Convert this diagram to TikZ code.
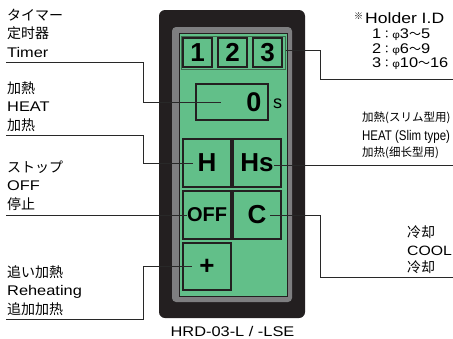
\documentclass[tikz,border=0pt]{standalone}
\usepackage{fontspec}
\setmainfont{Liberation Sans}[FakeStretch=1.17]
\newfontfamily\condfont{Liberation Sans}[FakeStretch=0.82]
\newfontfamily\keyfont{Liberation Sans}
\newfontfamily\jpfont{Noto Sans CJK JP}
\newfontfamily\cnfont{Noto Sans CJK SC}
\newcommand\hcolon{{\jpfont\fontsize{11}{11}\selectfont ：}}
\newcommand\hwave{{\jpfont\fontsize{12}{12}\selectfont ～}}
\newcommand\hphi{{\fontsize{10}{10}\selectfont φ}}
\definecolor{casecol}{RGB}{35,31,32}
\definecolor{framegray}{RGB}{126,126,128}
\definecolor{panelgreen}{RGB}{98,191,137}
\definecolor{stripedge}{RGB}{62,105,78}
\definecolor{linecol}{RGB}{40,40,40}
\tikzset{
  lat/.style={anchor=base west, inner sep=0pt, font=\fontsize{14}{14}\selectfont},
  jp/.style={anchor=base west, inner sep=0pt, font=\jpfont\fontsize{14}{14}\selectfont},
  cn/.style={anchor=base west, inner sep=0pt, font=\cnfont\fontsize{14}{14}\selectfont},
  conn/.style={draw=linecol, line width=0.8pt},
  keybox/.style={draw=casecol, line width=1.1pt, fill=panelgreen, minimum width=48pt, minimum height=48pt, inner sep=0pt, font=\keyfont\bfseries\fontsize{26}{26}\selectfont},
  idbox/.style={keybox, minimum width=29pt, minimum height=29pt},
}
\begin{document}
\begin{tikzpicture}[x=1pt,y=-1pt]
\fill[white] (0,0) rectangle (453,338);
\useasboundingbox (0,0) rectangle (453,338);

% device body
\node[fill=casecol, rounded corners=6pt, minimum width=146pt, minimum height=308pt, inner sep=0pt] (case) at (232,164) {};
\node[fill=framegray, rounded corners=4pt, minimum width=120pt, minimum height=275pt, inner sep=0pt] (frame) at (232,164.5) {};
\node[fill=panelgreen, draw=casecol, line width=0.8pt, minimum width=108pt, minimum height=263pt, inner sep=0pt] (panel) at (233,164.5) {};
\node[fill=panelgreen, draw=stripedge, line width=1pt, minimum width=104pt, minimum height=33pt, inner sep=0pt] (holder) at (233,52.5) {};

\node[idbox] (id1) at (197.5,52.5) {1};
\node[idbox] (id2) at (232.5,52.5) {2};
\node[idbox] (id3) at (267.5,52.5) {3};

\node[draw=casecol, line width=1.1pt, minimum width=72pt, minimum height=36pt, inner sep=0pt] (timer) at (232,102) {};
\node[inner sep=0pt, font=\keyfont\bfseries\fontsize{27}{27}\selectfont] (zero) at (254,102.5) {0};
\node[anchor=base west, inner sep=0pt, font=\keyfont\fontsize{18}{18}\selectfont] (sec) at (273,108) {s};

\node[keybox] (hkey) at (207,163) {H};
\node[keybox] (hskey) at (257,163) {Hs};
\node[keybox, font=\keyfont\bfseries\fontsize{20}{20}\selectfont] (offkey) at (207,215) {OFF};
\node[keybox] (ckey) at (257,215) {C};
\node[keybox, minimum height=47pt] (pkey) at (207,266.5) {+};

\node[anchor=base, inner sep=0pt, font=\fontsize{14}{14}\selectfont] (model) at (232.5,336) {HRD-03-L / -LSE};

% left labels
\node[jp] (t1) at (7,20) {タイマー};
\node[cn] (t2) at (7,38.5) {定时器};
\node[lat] (t3) at (7,57) {Timer};
\coordinate (tu) at (6,62);
\coordinate (tend) at (221,102);

\node[jp] (h1) at (7,93) {加熱};
\node[lat] (h2) at (7,111.5) {HEAT};
\node[cn] (h3) at (7,130) {加热};
\coordinate (hu) at (6,135);

\node[jp] (o1) at (7,172) {ストップ};
\node[lat] (o2) at (7,190.5) {OFF};
\node[cn] (o3) at (7,209) {停止};
\coordinate (ou) at (6,215);

\node[jp] (r1) at (7,277) {追い加熱};
\node[lat] (r2) at (7,295.5) {Reheating};
\node[cn] (r3) at (7,314) {追加加热};
\coordinate (ru) at (6,319);

% right labels
\node[inner sep=0pt, font=\jpfont\fontsize{9}{9}\selectfont] (note) at (358.5,16.5) {※};
\node[anchor=base west, inner sep=0pt, font=\fontsize{15}{15}\selectfont] (hid0) at (365,23.5) {Holder I.D};
\node[lat] (hid1) at (372,38) {1\hcolon\hphi 3\hwave 5};
\node[lat] (hid2) at (372,53) {2\hcolon\hphi 6\hwave 9};
\node[lat] (hid3) at (372,67.5) {3\hcolon\hphi 10\hwave 16};
\coordinate (hdend) at (453,79);

\node[jp, font=\jpfont\fontsize{11.5}{11.5}\selectfont] (s1) at (362,121.6) {加熱(スリム型用)};
\node[lat, font=\condfont\fontsize{14}{14}\selectfont] (s2) at (362,140) {HEAT (Slim type)};
\node[cn, font=\cnfont\fontsize{11.5}{11.5}\selectfont] (s3) at (362,156.6) {加热(细长型用)};
\coordinate (hsend) at (453,165);

\node[cn] (c1) at (407,237.3) {冷却};
\node[lat, font=\fontsize{13.5}{13.5}\selectfont] (c2) at (407,255) {COOL};
\node[cn] (c3) at (407,272.3) {冷却};
\coordinate (cend) at (453,277);

% connectors
\draw[conn] (tu) -- ++(137,0) |- (tend);
\draw[conn] (hu) -- ++(137,0) |- ([xshift=-14pt]hkey.center);
\draw[conn] (ou) -- ([xshift=-20pt]offkey.center);
\draw[conn] (ru) -- ++(137,0) |- ([xshift=-15pt]pkey.center);
\draw[conn] ([yshift=2.5pt]holder.east) -- ++(35,0) |- (hdend);
\draw[conn] ([xshift=17pt,yshift=-2pt]hskey.center) -- (hsend);
\draw[conn] ([xshift=13pt]ckey.center) -- ++(50,0) |- (cend);
\end{tikzpicture}
\end{document}
